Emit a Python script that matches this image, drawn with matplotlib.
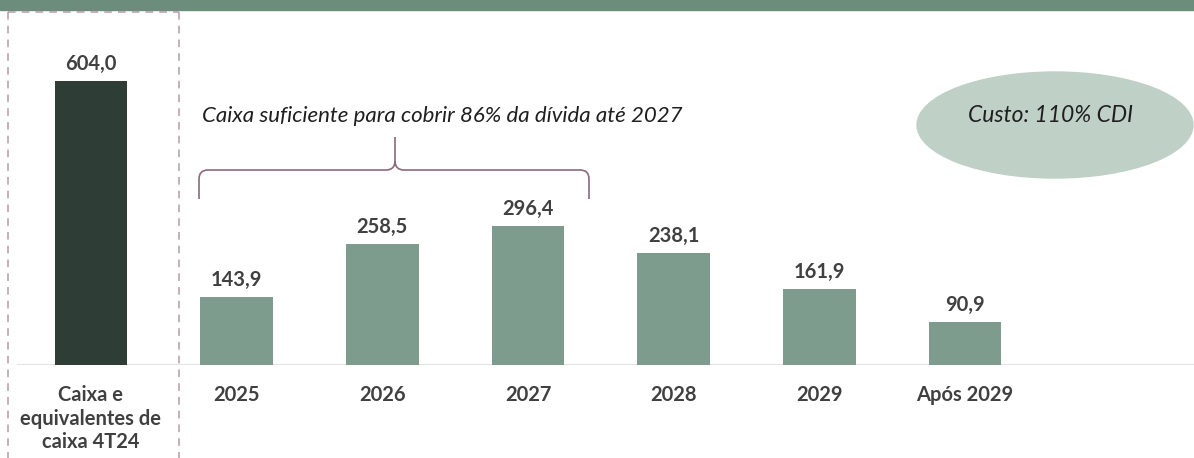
import matplotlib
matplotlib.use("Agg")
import matplotlib.pyplot as plt
from matplotlib.patches import Ellipse, PathPatch, Rectangle
from matplotlib.path import Path
from matplotlib.lines import Line2D

categories = ["Caixa e\nequivalentes de\ncaixa 4T24", "2025", "2026", "2027", "2028", "2029", "Após 2029"]
values = [604.0, 143.9, 258.5, 296.4, 238.1, 161.9, 90.9]
labels = ["604,0", "143,9", "258,5", "296,4", "238,1", "161,9", "90,9"]
bar_colors = ["#2f3d37"] + ["#7e9c8d"] * 6

W, H = 1194, 458
fig = plt.figure(figsize=(W / 100, H / 100), dpi=100)
FONT = ["Lato", "DejaVu Sans"]

def fx(px):
    return px / W

def fy(py):
    return 1 - py / H

# top band
fig.patches.append(Rectangle((0, fy(10)), 1, 10 / H, transform=fig.transFigure,
                             color="#6d8d7c", zorder=0))

ax = fig.add_axes([0, fy(365), 1, (365 - 12) / H])
spacing = 145.67
ax.set_xlim(-91 / spacing, (W - 91) / spacing)
ax.set_ylim(0, 353 / 0.47)
ax.axis("off")

x = list(range(len(values)))
ax.bar(x, values, width=0.5, color=bar_colors, zorder=2)
ax.plot([-0.5, ax.get_xlim()[1]], [0, 0], color="#e3e3e3", lw=1.5, zorder=1)

for xi, v, lab in zip(x, values, labels):
    ax.annotate(lab, (xi, v), xytext=(0, 5), textcoords="offset points",
                ha="center", va="bottom", fontsize=14.5, fontweight="bold",
                color="#404040", family=FONT)
for xi, c in zip(x, categories):
    ax.annotate(c, (xi, 0), xytext=(0, -14.5), textcoords="offset points",
                ha="center", va="top", fontsize=14.5, fontweight="bold",
                color="#404040", family=FONT, linespacing=1.22)

# dashed box around first category
dash_col = "#b79aa6"
for xs, ys in [([8, 8], [12, 470]), ([179, 179], [12, 470]), ([8, 179], [12, 12])]:
    fig.lines.append(Line2D([fx(v) for v in xs], [fy(v) for v in ys],
                            transform=fig.transFigure, color=dash_col, lw=1.1,
                            dashes=(5, 4)))

# brace
xl, xr, xc = 199, 589, 395
yb, yh, yt = 199, 170, 137
r = 9
verts = [
    (xl, yb), (xl, yh + r), (xl, yh), (xl + r, yh),
    (xc - r, yh), (xc, yh), (xc, yh - r),
    (xc, yt),
    (xc, yh - r), (xc, yh), (xc + r, yh),
    (xr - r, yh), (xr, yh), (xr, yh + r),
    (xr, yb),
]
codes = [Path.MOVETO, Path.LINETO, Path.CURVE3, Path.CURVE3,
         Path.LINETO, Path.CURVE3, Path.CURVE3,
         Path.LINETO,
         Path.MOVETO, Path.CURVE3, Path.CURVE3,
         Path.LINETO, Path.CURVE3, Path.CURVE3,
         Path.LINETO]
path = Path([(fx(a), fy(b)) for a, b in verts], codes)
fig.patches.append(PathPatch(path, transform=fig.transFigure, fill=False,
                             edgecolor="#8a6a7a", lw=1.2))

fig.text(fx(442), fy(116), "Caixa suficiente para cobrir 86% da dívida até 2027",
         ha="center", va="center", fontsize=16, style="italic", color="#1f1f1f",
         family=FONT)

# ellipse
fig.patches.append(Ellipse((fx(1055), fy(125)), 276 / W, 106 / H,
                           transform=fig.transFigure, color="#bfd0c7", zorder=1))
fig.text(fx(1051), fy(116), "Custo: 110% CDI", ha="center", va="center",
         fontsize=16.5, style="italic", color="#1f1f1f", family=FONT)

fig.savefig("out.png", dpi=100)
